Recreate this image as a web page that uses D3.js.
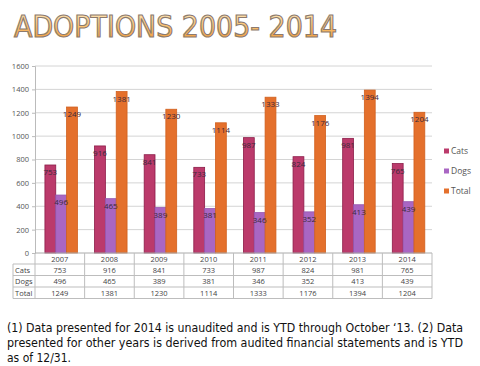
<!DOCTYPE html>
<html>
<head>
<meta charset="utf-8">
<script src="https://cdn.jsdelivr.net/npm/d3@7"></script>
<style>
body { margin: 0; background: #fff; }
svg { display: block; }
</style>
</head>
<body>
<svg id="chart"></svg>
<script>
const years = ['2007', '2008', '2009', '2010', '2011', '2012', '2013', '2014'];
const cats = [753, 916, 841, 733, 987, 824, 981, 765];
const dogs = [496, 465, 389, 381, 346, 352, 413, 439];
const total = [1249, 1381, 1230, 1114, 1333, 1176, 1394, 1204];
const seriesNames = ['Cats', 'Dogs', 'Total'];
const yTicks = [0, 200, 400, 600, 800, 1000, 1200, 1400, 1600];

const colors = { Cats: '#bb3a6b', Dogs: '#a966c3', Total: '#e4702c' };
const strokes = { Cats: '#8c1c48', Dogs: '#9458b0', Total: '#d0601e' };

const seriesValues = { Cats: cats, Dogs: dogs, Total: total };

const width = 480, height = 366;
const svg = d3.select('#chart').attr('width', width).attr('height', height);

const plot = { left: 35, right: 432, top: 66, bottom: 253 };

const x = d3.scaleBand().domain(years).range([plot.left, plot.right]);
const bw = x.bandwidth();
const x1 = d3.scaleBand().domain(seriesNames).range([bw * 0.2, bw * 0.855]);
const y = d3.scaleLinear().domain([0, 1600]).range([plot.bottom, plot.top]);

// title with gradient fill
const defs = svg.append('defs');
const grad = defs.append('linearGradient').attr('id', 'titleGrad')
	.attr('x1', 0).attr('y1', 0).attr('x2', 0).attr('y2', 1);
grad.append('stop').attr('offset', '0%').attr('stop-color', '#fff0cc');
grad.append('stop').attr('offset', '50%').attr('stop-color', '#f9c170');
grad.append('stop').attr('offset', '100%').attr('stop-color', '#ec9030');

svg.append('text')
	.attr('x', 14).attr('y', 37)
	.attr('font-family', 'DejaVu Sans Condensed, DejaVu Sans, sans-serif')
	.attr('font-size', 30)
	.attr('textLength', 323)
	.attr('lengthAdjust', 'spacingAndGlyphs')
	.attr('fill', 'url(#titleGrad)')
	.attr('stroke', '#8c7a6e')
	.attr('stroke-width', 1.1)
	.text('ADOPTIONS 2005- 2014');

// gridlines
svg.append('g').selectAll('line')
	.data(yTicks.filter((d) => d > 0))
	.enter().append('line')
	.attr('x1', plot.left).attr('x2', plot.right)
	.attr('y1', (d) => y(d)).attr('y2', (d) => y(d))
	.attr('stroke', '#d4d4d4').attr('stroke-width', 1);

// y axis
const yAxis = svg.append('g')
	.attr('transform', `translate(${plot.left},0)`)
	.call(d3.axisLeft(y).tickValues(yTicks).tickFormat(d3.format('d')).tickSize(3).tickPadding(3));
yAxis.select('.domain').attr('stroke', '#bbb');
yAxis.selectAll('.tick line').attr('stroke', '#bbb');
yAxis.selectAll('.tick text')
	.attr('font-family', 'Open Sans, DejaVu Sans, sans-serif')
	.attr('font-size', 7.5).attr('fill', '#555');

// bars
const groups = svg.append('g').selectAll('g')
	.data(years)
	.enter().append('g')
	.attr('transform', (d) => `translate(${x(d)},0)`);

const barData = (d, i) => seriesNames.map((s) => ({ s, v: seriesValues[s][i] }));

groups.selectAll('rect')
	.data(barData)
	.enter().append('rect')
	.attr('x', (d) => x1(d.s))
	.attr('width', x1.bandwidth())
	.attr('y', (d) => y(d.v))
	.attr('height', (d) => y(0) - y(d.v))
	.attr('fill', (d) => colors[d.s])
	.attr('stroke', (d) => strokes[d.s])
	.attr('stroke-width', 0.8);

groups.selectAll('text.lbl')
	.data(barData)
	.enter().append('text')
	.attr('class', 'lbl')
	.attr('x', (d) => x1(d.s) + x1.bandwidth() / 2)
	.attr('y', (d) => y(d.v) + 10)
	.attr('text-anchor', 'middle')
	.attr('font-family', 'Open Sans, DejaVu Sans, sans-serif')
	.attr('font-size', 8)
	.attr('fill', '#3a2a3a')
	.text((d) => d.v);

// data table
const tbl = { left: 13, header: 264, rowH: 11.5 };
const tableG = svg.append('g');
const lineColor = '#bdbdbd';
const rows = [['Cats', cats], ['Dogs', dogs], ['Total', total]];
const tableBottom = tbl.header + rows.length * tbl.rowH;

// horizontal lines
[plot.bottom].concat(d3.range(rows.length + 1).map((i) => tbl.header + i * tbl.rowH))
	.forEach((yy, i) => {
		tableG.append('line')
			.attr('x1', i === 0 ? plot.left : tbl.left).attr('x2', plot.right)
			.attr('y1', yy).attr('y2', yy)
			.attr('stroke', i === 0 ? '#aaa' : lineColor);
	});

// vertical lines
years.map((d) => x(d)).concat([plot.right]).forEach((xx) => {
	tableG.append('line')
		.attr('x1', xx).attr('x2', xx)
		.attr('y1', plot.bottom).attr('y2', tableBottom)
		.attr('stroke', lineColor);
});
tableG.append('line')
	.attr('x1', tbl.left).attr('x2', tbl.left)
	.attr('y1', tbl.header).attr('y2', tableBottom)
	.attr('stroke', lineColor);

const tFont = 'Open Sans, DejaVu Sans, sans-serif';
tableG.selectAll('text.yr')
	.data(years)
	.enter().append('text')
	.attr('x', (d) => x(d) + bw / 2)
	.attr('y', plot.bottom + 8.5)
	.attr('text-anchor', 'middle')
	.attr('font-family', tFont).attr('font-size', 7.5).attr('fill', '#444')
	.text((d) => d);

rows.forEach(([name, vals], r) => {
	const yy = tbl.header + r * tbl.rowH + 8.5;
	tableG.append('text')
		.attr('x', tbl.left + 2).attr('y', yy)
		.attr('font-family', tFont).attr('font-size', 7.5).attr('fill', '#444')
		.text(name);
	tableG.selectAll(null)
		.data(vals)
		.enter().append('text')
		.attr('x', (d, i) => x(years[i]) + bw / 2)
		.attr('y', yy)
		.attr('text-anchor', 'middle')
		.attr('font-family', tFont).attr('font-size', 7.5).attr('fill', '#444')
		.text((d) => d);
});

// legend
const legend = svg.append('g').selectAll('g')
	.data(seriesNames)
	.enter().append('g')
	.attr('transform', (d, i) => `translate(444,${151 + i * 20})`);
legend.append('rect')
	.attr('x', 0).attr('y', -2.5).attr('width', 5).attr('height', 5)
	.attr('fill', (d) => colors[d]);
legend.append('text')
	.attr('x', 7).attr('y', 3)
	.attr('font-family', tFont).attr('font-size', 8.5).attr('fill', '#555')
	.text((d) => d);

// footnote
const notes = [
	'(1) Data presented for 2014 is unaudited and is YTD through October \u201813. (2) Data',
	'presented for other years is derived from audited financial statements  and is YTD',
	'as of 12/31.'
];
svg.append('g').selectAll('text')
	.data(notes)
	.enter().append('text')
	.attr('x', 7)
	.attr('y', (d, i) => 332 + i * 15)
	.attr('font-family', 'DejaVu Sans Condensed, DejaVu Sans, sans-serif')
	.attr('font-size', 12)
	.attr('fill', '#111')
	.attr('textLength', (d, i) => i < 2 ? 456 : null)
	.attr('lengthAdjust', 'spacingAndGlyphs')
	.text((d) => d);
</script>
</body>
</html>
